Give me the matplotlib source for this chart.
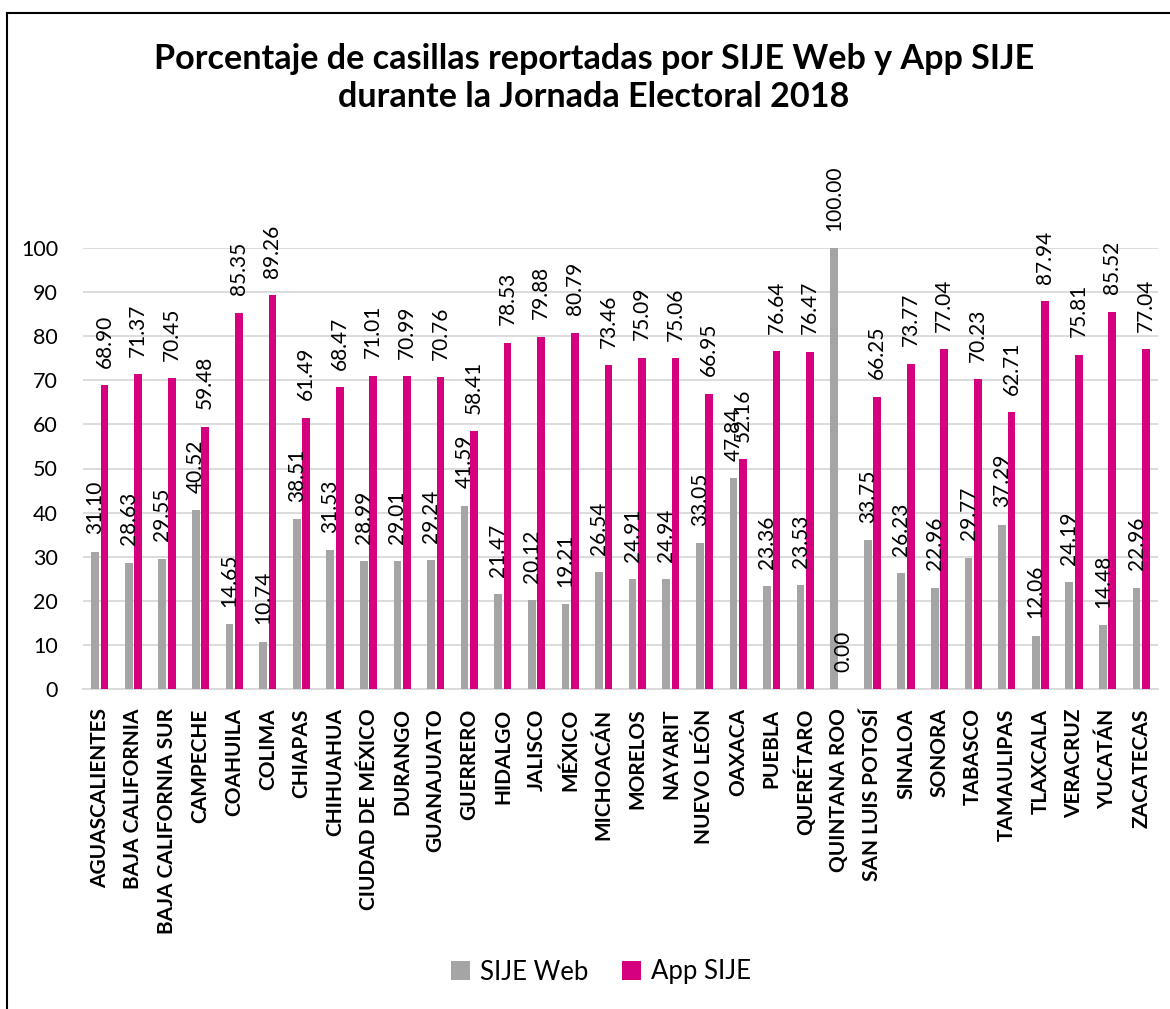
import numpy as np
import matplotlib.pyplot as plt
from matplotlib.lines import Line2D

estados = ['AGUASCALIENTES', 'BAJA CALIFORNIA', 'BAJA CALIFORNIA SUR', 'CAMPECHE',
           'COAHUILA', 'COLIMA', 'CHIAPAS', 'CHIHUAHUA', 'CIUDAD DE MÉXICO', 'DURANGO',
           'GUANAJUATO', 'GUERRERO', 'HIDALGO', 'JALISCO', 'MÉXICO', 'MICHOACÁN',
           'MORELOS', 'NAYARIT', 'NUEVO LEÓN', 'OAXACA', 'PUEBLA', 'QUERÉTARO',
           'QUINTANA ROO', 'SAN LUIS POTOSÍ', 'SINALOA', 'SONORA', 'TABASCO',
           'TAMAULIPAS', 'TLAXCALA', 'VERACRUZ', 'YUCATÁN', 'ZACATECAS']
sije_web = [31.10, 28.63, 29.55, 40.52, 14.65, 10.74, 38.51, 31.53, 28.99, 29.01,
            29.24, 41.59, 21.47, 20.12, 19.21, 26.54, 24.91, 24.94, 33.05, 47.84,
            23.36, 23.53, 100.00, 33.75, 26.23, 22.96, 29.77, 37.29, 12.06, 24.19,
            14.48, 22.96]
app_sije = [68.90, 71.37, 70.45, 59.48, 85.35, 89.26, 61.49, 68.47, 71.01, 70.99,
            70.76, 58.41, 78.53, 79.88, 80.79, 73.46, 75.09, 75.06, 66.95, 52.16,
            76.64, 76.47, 0.00, 66.25, 73.77, 77.04, 70.23, 62.71, 87.94, 75.81,
            85.52, 77.04]

gris = '#A5A5A5'
rosa = '#D5007F'
plt.rcParams['font.family'] = ['Lato', 'DejaVu Sans']

fig = plt.figure(figsize=(11.7, 10.09), dpi=100)
ax = fig.add_axes([83/1170, 1-689/1009, (1158-83)/1170, (689-248)/1009])

x = np.arange(len(estados))
w = 0.23
b1 = ax.bar(x - 0.14, sije_web, w, color=gris, label='SIJE Web', zorder=3)
b2 = ax.bar(x + 0.14, app_sije, w, color=rosa, label='App SIJE', zorder=3)

for bars in (b1, b2):
    for r in bars:
        h = r.get_height()
        ax.annotate('%.2f' % h, (r.get_x() + r.get_width()/2, h),
                    xytext=(0, 12.5), textcoords='offset points',
                    rotation=90, ha='center', va='bottom', fontsize=15,
                    clip_on=False, zorder=4)

ax.set_xlim(-0.5, len(estados) - 0.5)
ax.set_ylim(0, 100)
ax.set_yticks(range(0, 101, 10))
ax.yaxis.grid(True, color='#D9D9D9', linewidth=1.3, zorder=0)
ax.tick_params(axis='y', length=0, pad=18, labelsize=15.5)
ax.tick_params(axis='x', length=0, pad=14)
ax.set_xticks(x)
ax.set_xticklabels(estados, rotation=90, fontsize=15, fontweight='bold', va='top')
for s in ['top', 'right', 'left']:
    ax.spines[s].set_visible(False)
ax.spines['bottom'].set_color('#D9D9D9')
ax.spines['bottom'].set_linewidth(1.3)

fig.text(594/1170, 1-78/1009, 'Porcentaje de casillas reportadas por SIJE Web y App SIJE\n'
         'durante la Jornada Electoral 2018', ha='center', va='center',
         fontsize=24.6, fontweight='bold', linespacing=1.2)

ax.legend(loc='center', bbox_to_anchor=(601/1170, 1-972/1009),
          bbox_transform=fig.transFigure, ncol=2, frameon=False, fontsize=18.5,
          handlelength=0.75, handleheight=0.75, handletextpad=0.4, columnspacing=1.3)

# marco de la figura (solo se ve borde izquierdo y superior)
fig.add_artist(Line2D([7/1170, 7/1170], [0, 1-12.5/1009], color='black', linewidth=1.5,
                      transform=fig.transFigure))
fig.add_artist(Line2D([7/1170, 1], [1-12.5/1009, 1-12.5/1009], color='black', linewidth=1.5,
                      transform=fig.transFigure))

fig.savefig('out.png', dpi=100, facecolor='white')
